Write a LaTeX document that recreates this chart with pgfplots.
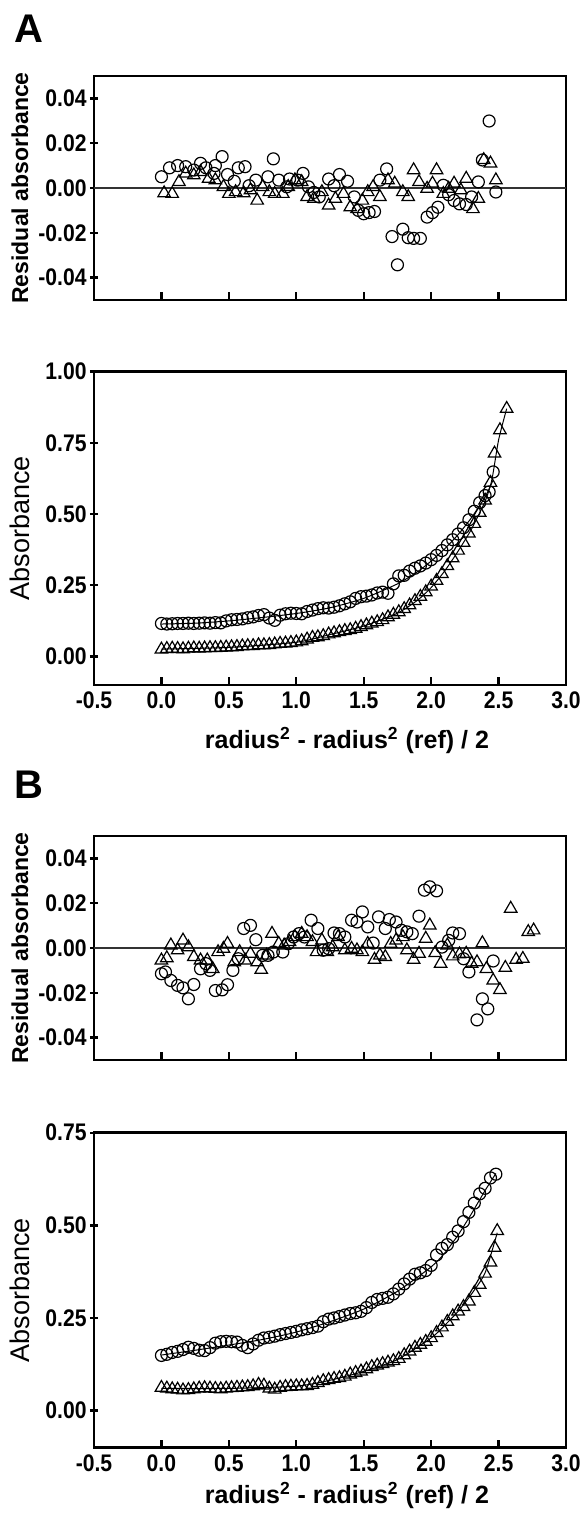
\documentclass[border=0pt]{standalone}
\usepackage{fontspec}
\setmainfont{Liberation Sans}
\newfontfamily\cond{Liberation Sans}[FakeStretch=0.88]
\usepackage{pgfplots}
\pgfplotsset{compat=1.18}

\pgfplotsset{
  base/.style={
    scale only axis, width=236pt, xmin=-0.5, xmax=3.0,
    anchor=south west,
    scaled y ticks=false, scaled x ticks=false,
    axis line style={line width=1.3pt},
    every tick/.style={black, line width=1.2pt},
    major tick length=4pt,
    xtick align=inside, ytick align=center,
    xtick pos=bottom, ytick pos=left,
    tick label style={font=\cond\bfseries\fontsize{12}{14}\selectfont},
    yticklabel style={inner xsep=1.5pt},
    ylabel style={at={(axis description cs:-0.157,0.5)}, anchor=center},
  },
  res/.style={base, height=112pt, ymin=-0.05, ymax=0.05,
    xtick={0,0.5,1,1.5,2,2.5}, xticklabels={},
    ytick={-0.04,-0.02,0,0.02,0.04},
    yticklabels={-0.04,-0.02,0.00,0.02,0.04},
    ylabel={Residual absorbance},
    ylabel style={font=\bfseries\fontsize{11.5}{13}\selectfont},
  },
  abso/.style={base, ymin=-0.1,
    xtick={-0.5,0,0.5,1,1.5,2,2.5,3},
    xticklabels={-0.5,0.0,0.5,1.0,1.5,2.0,2.5,3.0},
    ylabel={Absorbance},
    ylabel style={font=\fontsize{13.5}{15}\selectfont},
    xlabel={radius\textsuperscript{2} - radius\textsuperscript{2} (ref) / 2},
    xlabel style={font=\bfseries\fontsize{12.5}{14}\selectfont, at={(axis description cs:0.536,0)}, anchor=north, inner sep=0pt},
  },
  circ/.style={only marks, mark=o, mark size=3pt, black, mark options={line width=0.6pt}},
  tri/.style={only marks, mark=triangle, mark size=3.6pt, black, mark options={line width=0.6pt}},
  fitl/.style={no marks, black, line width=0.5pt, smooth, tension=0.4},
  zerol/.style={no marks, black!80, line width=0.6pt},
}

\begin{document}
\begin{tikzpicture}
\path[use as bounding box] (0,0) rectangle (292.5pt,756.5pt);

% ---------- A residuals ----------
\begin{axis}[res, at={(47pt,606.5pt)}]
\addplot[zerol] coordinates {(-0.5,0) (3,0)};
\addplot[circ] coordinates {
(0.00,0.005) (0.06,0.009) (0.12,0.010) (0.18,0.0095) (0.24,0.008) (0.29,0.011)
(0.33,0.009) (0.39,0.0065) (0.40,0.010) (0.45,0.014) (0.49,0.006) (0.54,0.003)
(0.57,0.009) (0.62,0.0095) (0.65,0.001) (0.70,0.0035) (0.79,0.005) (0.83,0.013)
(0.87,0.0035) (0.93,0.0005) (0.95,0.004) (1.01,0.0035) (1.05,0.0065) (1.09,0.0005)
(1.13,-0.002) (1.17,-0.004) (1.24,0.004) (1.28,0.001) (1.32,0.006) (1.38,0.003)
(1.43,-0.004) (1.46,-0.010) (1.50,-0.0115) (1.54,-0.011) (1.58,-0.0105) (1.62,0.0035)
(1.67,0.0085) (1.71,-0.0217) (1.75,-0.0343) (1.79,-0.0184) (1.83,-0.0222) (1.87,-0.0225)
(1.92,-0.0225) (1.97,-0.013) (2.01,-0.011) (2.05,-0.0086) (2.09,0.0012) (2.13,-0.003)
(2.17,-0.0056) (2.21,-0.0071) (2.26,-0.0074) (2.30,-0.004) (2.35,0.0027) (2.38,0.0125)
(2.43,0.0299) (2.48,-0.0018)
};
\addplot[tri] coordinates {
(0.02,-0.0023) (0.08,-0.0026) (0.13,0.0027) (0.18,0.0065) (0.24,0.0057) (0.29,0.0072)
(0.35,0.0042) (0.40,0.0035) (0.46,0.0005) (0.50,-0.0026) (0.55,-0.0018) (0.61,-0.0023)
(0.66,-0.001) (0.71,-0.0056) (0.75,0.0005) (0.80,-0.0018) (0.84,-0.0026) (0.90,-0.0026)
(0.94,0.0005) (0.99,0.0035) (1.04,0.0027) (1.08,-0.004) (1.13,-0.0048) (1.19,-0.0018)
(1.24,-0.0078) (1.29,-0.0048) (1.35,-0.0026) (1.40,-0.0086) (1.45,-0.0094) (1.49,-0.0056)
(1.53,-0.0018) (1.57,0.0005) (1.62,-0.004) (1.68,0.0035) (1.73,0.002) (1.79,-0.0018)
(1.83,-0.004) (1.87,0.008) (1.91,0.0027) (1.97,-0.0003) (2.01,0.002) (2.04,0.008)
(2.09,-0.0026) (2.13,-0.0003) (2.17,0.002) (2.22,-0.001) (2.26,0.0042) (2.31,-0.0094)
(2.35,-0.0048) (2.39,0.0125) (2.44,0.011) (2.48,0.0035)
};
\end{axis}

% ---------- A absorbance ----------
\begin{axis}[abso, at={(47pt,414pt)}, height=156.65pt, ymax=1.0,
  ytick={0,0.25,0.5,0.75,1.0}, yticklabels={0.00,0.25,0.50,0.75,1.00},
  xlabel style={yshift=-21pt}]
\addplot[fitl] coordinates {(0,0.114) (0.25,0.117) (0.5,0.125) (0.75,0.137) (1.0,0.151) (1.25,0.171) (1.5,0.204) (1.75,0.255) (1.9,0.298) (2.0,0.335) (2.1,0.378) (2.2,0.428) (2.3,0.488) (2.4,0.56) (2.46,0.62)};
\addplot[fitl] coordinates {(0,0.026) (0.5,0.032) (1.0,0.050) (1.25,0.077) (1.5,0.107) (1.75,0.152) (1.9,0.198) (2.0,0.242) (2.1,0.300) (2.2,0.370) (2.3,0.448) (2.4,0.545) (2.45,0.62) (2.5,0.76) (2.56,0.87)};
\addplot[circ] coordinates {
(0.00,0.116) (0.04,0.114) (0.08,0.115) (0.12,0.116) (0.16,0.116) (0.20,0.117) (0.24,0.116)
(0.28,0.117) (0.32,0.118) (0.36,0.117) (0.40,0.119) (0.44,0.118) (0.48,0.125) (0.52,0.129)
(0.56,0.130) (0.60,0.132) (0.64,0.136) (0.68,0.139) (0.72,0.144) (0.76,0.147) (0.80,0.135)
(0.84,0.127) (0.88,0.145) (0.92,0.150) (0.96,0.152) (1.00,0.151) (1.04,0.150) (1.08,0.158)
(1.12,0.163) (1.16,0.168) (1.20,0.171) (1.24,0.170) (1.28,0.173) (1.32,0.178) (1.36,0.185)
(1.40,0.192) (1.44,0.204) (1.48,0.210) (1.52,0.212) (1.56,0.216) (1.60,0.223) (1.64,0.226)
(1.68,0.222) (1.72,0.255) (1.76,0.283) (1.80,0.285) (1.84,0.300) (1.88,0.310) (1.92,0.318)
(1.96,0.328) (2.00,0.340) (2.04,0.355) (2.08,0.372) (2.12,0.392) (2.16,0.410) (2.20,0.430)
(2.24,0.452) (2.28,0.480) (2.32,0.510) (2.36,0.540) (2.40,0.565) (2.43,0.578) (2.46,0.648)
};
\addplot[tri] coordinates {
(0.00,0.025) (0.04,0.027) (0.08,0.028) (0.12,0.027) (0.16,0.026) (0.20,0.028) (0.24,0.029)
(0.28,0.028) (0.32,0.029) (0.36,0.030) (0.40,0.030) (0.44,0.031) (0.48,0.032) (0.52,0.033)
(0.56,0.034) (0.60,0.036) (0.64,0.037) (0.68,0.037) (0.72,0.040) (0.76,0.040) (0.80,0.041)
(0.84,0.043) (0.88,0.045) (0.92,0.046) (0.96,0.048) (1.00,0.050) (1.04,0.054) (1.08,0.060)
(1.12,0.066) (1.16,0.068) (1.20,0.072) (1.24,0.078) (1.28,0.082) (1.32,0.086) (1.36,0.090)
(1.40,0.093) (1.44,0.098) (1.48,0.104) (1.52,0.110) (1.56,0.116) (1.60,0.121) (1.64,0.128)
(1.68,0.138) (1.72,0.147) (1.76,0.156) (1.80,0.167) (1.84,0.180) (1.88,0.195) (1.92,0.210)
(1.96,0.226) (2.00,0.246) (2.04,0.266) (2.08,0.290) (2.12,0.318) (2.16,0.345) (2.20,0.372)
(2.24,0.400) (2.28,0.432) (2.32,0.466) (2.36,0.505) (2.40,0.548) (2.44,0.610) (2.47,0.713)
(2.51,0.795) (2.56,0.870)
};
\end{axis}

% ---------- B residuals ----------
\begin{axis}[res, at={(47pt,226.5pt)}]
\addplot[zerol] coordinates {(-0.5,0) (3,0)};
\addplot[circ] coordinates {
(0.00,-0.0115) (0.03,-0.0107) (0.07,-0.0145) (0.12,-0.0167) (0.16,-0.0178) (0.20,-0.0227)
(0.24,-0.0163) (0.29,-0.0093) (0.33,-0.007) (0.36,-0.010) (0.40,-0.019) (0.45,-0.0187)
(0.49,-0.0164) (0.53,-0.010) (0.57,-0.0048) (0.61,0.0087) (0.66,0.0101) (0.70,0.0037)
(0.75,-0.0033) (0.79,-0.0033) (0.83,-0.0018) (0.90,-0.0018) (0.94,0.0019) (0.98,0.0049)
(1.02,0.0064) (1.06,0.0049) (1.11,0.0124) (1.16,0.0087) (1.20,-0.001) (1.24,-0.0003)
(1.28,0.0067) (1.32,0.0064) (1.36,0.0049) (1.41,0.0124) (1.45,0.0116) (1.49,0.0161)
(1.53,0.0094) (1.57,0.0022) (1.61,0.0139) (1.66,0.0087) (1.69,0.0127) (1.74,0.0116)
(1.78,0.0079) (1.82,0.0072) (1.86,0.0064) (1.91,0.0142) (1.95,0.0258) (1.99,0.0273)
(2.04,0.0255) (2.08,0.0004) (2.13,0.0034) (2.16,0.0067) (2.21,0.0064) (2.24,-0.0048)
(2.28,-0.0107) (2.34,-0.0321) (2.38,-0.0227) (2.42,-0.0272) (2.46,-0.0058)
};
\addplot[tri] coordinates {
(0.00,-0.0055) (0.04,-0.0045) (0.07,0.0012) (0.12,-0.001) (0.16,0.0034) (0.20,0.0004)
(0.24,-0.004) (0.29,-0.0055) (0.34,-0.0055) (0.38,-0.0093) (0.42,-0.0018) (0.46,-0.0003)
(0.49,0.0019) (0.54,-0.0063) (0.58,-0.0018) (0.62,-0.0055) (0.66,-0.0025) (0.71,-0.0063)
(0.74,-0.0097) (0.78,-0.0033) (0.82,0.0064) (0.87,0.0019) (0.91,0.0012) (0.95,0.0027)
(0.99,0.0049) (1.04,0.0064) (1.08,0.0049) (1.12,0.0027) (1.15,-0.0018) (1.19,0.0034)
(1.23,-0.0018) (1.27,0.0004) (1.31,0.0049) (1.36,-0.001) (1.41,-0.0003) (1.45,-0.001)
(1.49,-0.0018) (1.53,0.0019) (1.58,-0.0052) (1.62,-0.0033) (1.66,-0.004) (1.70,0.0019)
(1.74,0.0034) (1.79,0.0049) (1.82,-0.001) (1.87,-0.0052) (1.91,-0.0025) (1.96,0.0042)
(1.99,0.0101) (2.03,-0.0022) (2.07,-0.007) (2.12,0.0012) (2.16,-0.0037) (2.21,-0.0028)
(2.26,-0.0025) (2.30,-0.007) (2.34,-0.0063) (2.38,0.0022) (2.41,-0.0093) (2.46,-0.0145)
(2.51,-0.0187) (2.55,-0.0088) (2.59,0.0176) (2.63,-0.0052) (2.68,-0.0048) (2.72,0.0072)
(2.76,0.0079)
};
\end{axis}

% ---------- B absorbance ----------
\begin{axis}[abso, at={(47pt,32.65pt)}, height=157.5pt, ymax=0.75,
  ytick={0,0.25,0.5,0.75}, yticklabels={0.00,0.25,0.50,0.75},
  xlabel style={yshift=-17pt}]
\addplot[fitl] coordinates {(0,0.150) (0.25,0.163) (0.5,0.177) (0.75,0.192) (1.0,0.212) (1.25,0.240) (1.5,0.274) (1.75,0.322) (2.0,0.388) (2.1,0.425) (2.2,0.474) (2.3,0.532) (2.4,0.594) (2.48,0.64)};
\addplot[fitl] coordinates {(0,0.060) (0.5,0.060) (1.0,0.066) (1.25,0.082) (1.5,0.106) (1.75,0.138) (2.0,0.196) (2.1,0.230) (2.2,0.268) (2.3,0.315) (2.4,0.372) (2.49,0.48)};
\addplot[circ] coordinates {
(0.00,0.149) (0.04,0.152) (0.08,0.157) (0.12,0.160) (0.16,0.165) (0.20,0.171) (0.24,0.168)
(0.28,0.163) (0.32,0.162) (0.36,0.170) (0.40,0.182) (0.44,0.186) (0.48,0.187) (0.52,0.186)
(0.56,0.185) (0.60,0.176) (0.64,0.170) (0.68,0.180) (0.72,0.190) (0.76,0.196) (0.80,0.198)
(0.84,0.201) (0.88,0.205) (0.92,0.208) (0.96,0.211) (1.00,0.214) (1.04,0.218) (1.08,0.221)
(1.12,0.224) (1.16,0.228) (1.20,0.240) (1.24,0.247) (1.28,0.250) (1.32,0.254) (1.36,0.258)
(1.40,0.262) (1.44,0.264) (1.48,0.268) (1.52,0.278) (1.56,0.292) (1.60,0.300) (1.64,0.303)
(1.68,0.306) (1.72,0.315) (1.76,0.328) (1.80,0.342) (1.84,0.355) (1.88,0.368) (1.92,0.372)
(1.96,0.378) (2.00,0.392) (2.04,0.420) (2.08,0.438) (2.12,0.448) (2.16,0.468) (2.20,0.485)
(2.24,0.510) (2.28,0.535) (2.32,0.560) (2.36,0.585) (2.40,0.600) (2.44,0.628) (2.48,0.638)
};
\addplot[tri] coordinates {
(0.00,0.062) (0.04,0.060) (0.08,0.058) (0.12,0.057) (0.16,0.055) (0.20,0.056) (0.24,0.058)
(0.28,0.060) (0.32,0.061) (0.36,0.060) (0.40,0.059) (0.44,0.058) (0.48,0.060) (0.52,0.061)
(0.56,0.062) (0.60,0.063) (0.64,0.064) (0.68,0.066) (0.72,0.070) (0.76,0.068) (0.80,0.060)
(0.84,0.057) (0.88,0.062) (0.92,0.064) (0.96,0.065) (1.00,0.066) (1.04,0.066) (1.08,0.067)
(1.12,0.070) (1.16,0.075) (1.20,0.080) (1.24,0.083) (1.28,0.086) (1.32,0.088) (1.36,0.092)
(1.40,0.098) (1.44,0.102) (1.48,0.106) (1.52,0.112) (1.56,0.118) (1.60,0.122) (1.64,0.126)
(1.68,0.130) (1.72,0.134) (1.76,0.140) (1.80,0.150) (1.84,0.160) (1.88,0.170) (1.92,0.178)
(1.96,0.186) (2.00,0.196) (2.04,0.210) (2.08,0.225) (2.12,0.240) (2.16,0.255) (2.20,0.268)
(2.24,0.280) (2.28,0.295) (2.32,0.318) (2.36,0.340) (2.40,0.370) (2.44,0.400) (2.47,0.440)
(2.49,0.485)
};
\end{axis}

\node[font=\bfseries\fontsize{20}{24}\selectfont] at (14.5pt,742pt) {A};
\node[font=\bfseries\fontsize{20}{24}\selectfont] at (14.5pt,364pt) {B};
\end{tikzpicture}
\end{document}
